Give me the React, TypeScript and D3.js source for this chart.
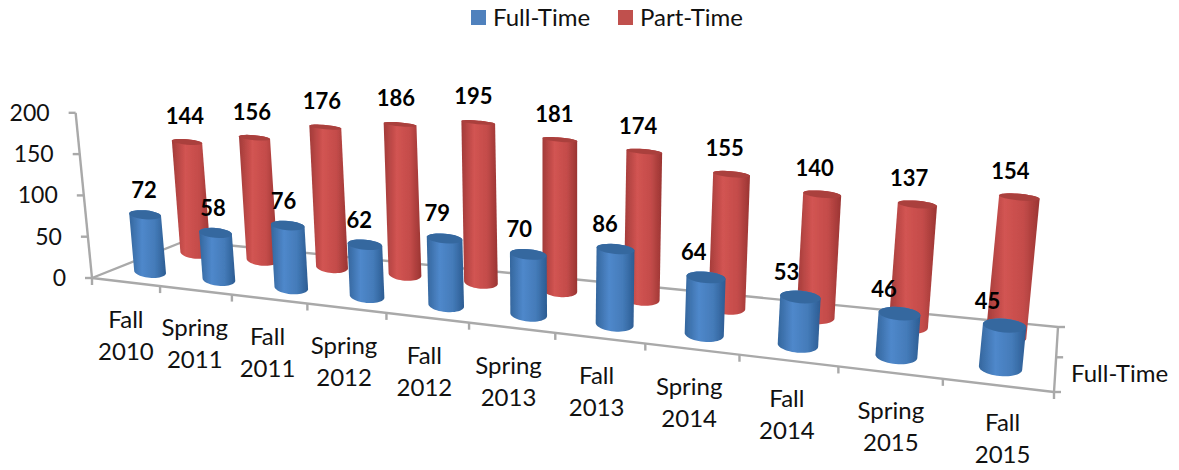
import React from 'react';
import * as d3 from 'd3';

const categories = ['Fall 2010', 'Spring 2011', 'Fall 2011', 'Spring 2012', 'Fall 2012', 'Spring 2013', 'Fall 2013', 'Spring 2014', 'Fall 2014', 'Spring 2015', 'Fall 2015'];
const fullTime = [72, 58, 76, 62, 79, 70, 86, 64, 53, 46, 45];
const partTime = [144, 156, 176, 186, 195, 181, 174, 155, 140, 137, 154];
const seriesNames = ['Full-Time', 'Part-Time'];
const yTicks = [0, 50, 100, 150, 200];

const font = 'Lato, Carlito, sans-serif';
const axisColor = '#a9a9a9';

// floor corners on screen: front-left, front-right, back-right, back-left
const [x0, y0] = [92, 278];
const [x1, y1] = [1054, 392];
const [x2, y2] = [1058, 327];
const [x3, y3] = [185, 241];

// square to quad homography for the floor plane
const sx = x0 - x1 + x2 - x3;
const sy = y0 - y1 + y2 - y3;
const det = (x1 - x2) * (y3 - y2) - (x3 - x2) * (y1 - y2);
const g = (sx * (y3 - y2) - (x3 - x2) * sy) / det;
const h = ((x1 - x2) * sy - sx * (y1 - y2)) / det;

const vanish: [number, number] = [560, 5000];

const uScale = d3.scaleBand<string>().domain(categories).range([0, 1]);
const dScale = d3.scaleBand<string>().domain(seriesNames).range([0, 1]);
const axisScale = d3.scaleLinear().domain([0, 200]).range([0, 166]);
const barScale = d3.scaleLinear().domain([0, 200]).range([0, 160]);

const depthW = (u: number, d: number) => g * u + h * d + 1;

function floorPoint(rawU: number, d: number): [number, number] {
  // the picture is less foreshortened along x than the corners alone suggest
  const u = rawU + 0.023 * Math.sin(Math.PI * rawU);
  const w = depthW(u, d);
  return [
    ((x1 - x0 + g * x1) * u + (x3 - x0 + h * x3) * d + x0) / w,
    ((y1 - y0 + g * y1) * u + (y3 - y0 + h * y3) * d + y0) / w,
  ];
}

function lift(p: [number, number], up: number): [number, number] {
  const len = Math.hypot(p[0] - vanish[0], p[1] - vanish[1]);
  return [p[0] + (up * (p[0] - vanish[0])) / len, p[1] + (up * (p[1] - vanish[1])) / len];
}

const project = (u: number, d: number, v: number) => lift(floorPoint(u, d), axisScale(v) / depthW(u, d));
const barTop = (u: number, d: number, v: number) => lift(floorPoint(u, d), barScale(v) / Math.pow(depthW(u, d), 0.56));

const line = d3.line();
const radius = 16.2;

function ellipsePts(c: [number, number], rx: number, ry: number, from: number, to: number) {
  const tilt = 0.09;
  return d3.range(0, 25).map((k) => {
    const t = from + ((to - from) * k) / 24;
    const ex = rx * Math.cos(t);
    const ey = ry * Math.sin(t);
    return [c[0] + ex * Math.cos(tilt) - ey * Math.sin(tilt), c[1] + ex * Math.sin(tilt) + ey * Math.cos(tilt)] as [number, number];
  });
}

function Cylinder({ u, d, v, name }: { u: number; d: number; v: number; name: string }) {
  const rx = radius / depthW(u, d);
  const base = floorPoint(u, d);
  const top = barTop(u, d, v);
  const ratio = (val: number) => 0.38 - 0.0014 * val;
  // lower half of the base, then the far half of the top
  const side = [...ellipsePts(base, rx, rx * ratio(0), 0, Math.PI), ...ellipsePts(top, rx, rx * ratio(v), Math.PI, 2 * Math.PI)];
  const id = name === 'Full-Time' ? 'blue' : 'red';
  return (
    <g>
      <path d={line(side) + 'Z'} fill={`url(#${id})`} />
      <path d={line(ellipsePts(top, rx, rx * ratio(v), 0, 2 * Math.PI)) + 'Z'} fill={id === 'blue' ? '#36689f' : '#aa403e'} />
    </g>
  );
}

export default function App() {
  const band = uScale.bandwidth();
  const uOf = (c: string) => (uScale(c) as number) + band / 2;
  const dFull = (dScale('Full-Time') as number) + dScale.bandwidth() / 2;
  const dPart = (dScale('Part-Time') as number) + dScale.bandwidth() / 2;
  const axisPath = (a: [number, number], b: [number, number]) => line([a, b]) as string;
  const tickProps = { fontFamily: font, fontSize: 23, fill: '#111' };
  const wordProps = { fontFamily: font, fontSize: 24, fill: '#111' };

  return (
    <svg width={1179} height={470} style={{ position: 'absolute', left: 0, top: 0, background: '#fff' }}>
      <defs>
        <linearGradient id="blue">
          <stop offset="0" stopColor="#34669d" />
          <stop offset="0.35" stopColor="#4f88cb" />
          <stop offset="0.7" stopColor="#447bb9" />
          <stop offset="1" stopColor="#2c5c92" />
        </linearGradient>
        <linearGradient id="red">
          <stop offset="0" stopColor="#a23b39" />
          <stop offset="0.35" stopColor="#d25452" />
          <stop offset="0.7" stopColor="#c44c4a" />
          <stop offset="1" stopColor="#9a3432" />
        </linearGradient>
        <filter id="soft" x="-10%" y="-10%" width="120%" height="120%">
          <feGaussianBlur stdDeviation="0.5" />
        </filter>
      </defs>

      <g stroke={axisColor} strokeWidth={2.4} fill="none">
        <path d={axisPath(project(0, 0, 0), project(0, 0, 200))} />
        <path d={axisPath(project(0, 0, 0), project(1, 0, 0))} />
        <path d={axisPath(project(0, 0, 0), project(0, 1, 0))} />
        <path d={axisPath(project(0, 1, 0), project(1, 1, 0))} />
        <path d={axisPath(project(1, 0, 0), project(1, 1, 0))} />
        {yTicks.map((t) => {
          const p = project(0, 0, t);
          return <path key={t} d={axisPath(p, [p[0] - 7, p[1]])} />;
        })}
        {d3.range(0, 12).map((k) => {
          const p = project(k / 11, 0, 0);
          return <path key={k} d={axisPath(p, [p[0], p[1] + 7])} />;
        })}
        {[0, 0.5, 1].map((d) => {
          const p = project(1, d, 0);
          return <path key={d} d={axisPath(p, [p[0] + 7, p[1]])} />;
        })}
      </g>

      <g filter="url(#soft)">
        {categories.map((c, i) => (
          <Cylinder key={c} u={uOf(c)} d={dPart} v={partTime[i]} name="Part-Time" />
        ))}
        {categories.map((c, i) => (
          <Cylinder key={c} u={uOf(c)} d={dFull} v={fullTime[i]} name="Full-Time" />
        ))}
      </g>

      {yTicks.map((t) => {
        const p = project(0, 0, t);
        return (
          <text key={t} {...tickProps} x={p[0] - 26} y={p[1] + 2} textAnchor="end" dominantBaseline="middle">
            {t}
          </text>
        );
      })}

      {categories.map((c) => {
        const u = uOf(c);
        const p = project(u, 0, 0);
        const [a, b] = c.split(' ');
        const shift = -4 + 12 * Math.pow(u, 6) + 5 * Math.pow(1 - u, 3);
        return (
          <g key={c} {...wordProps} textAnchor="middle">
            <text x={p[0] + shift} y={p[1] + 46}>{a}</text>
            <text x={p[0] + shift} y={p[1] + 78}>{b}</text>
          </g>
        );
      })}

      {categories.map((c, i) => {
        const pf = barTop(uOf(c), dFull, fullTime[i]);
        const pp = barTop(uOf(c), dPart, partTime[i]);
        return (
          <g key={c} fontFamily={font} fontSize={22} fontWeight={700} fill="#000" textAnchor="middle">
            <text x={pf[0] - 1 - i * 1.6} y={pf[1] - 17}>{fullTime[i]}</text>
            <text x={pp[0] - 2 - i * 0.7} y={pp[1] - 18}>{partTime[i]}</text>
          </g>
        );
      })}

      <text {...wordProps} x={1071} y={382}>Full-Time</text>

      <rect x={471} y={10} width={15} height={15} fill="#4f81bd" />
      <text {...wordProps} x={493} y={26}>Full-Time</text>
      <rect x={618} y={10} width={15} height={15} fill="#c0504d" />
      <text {...wordProps} x={640} y={26}>Part-Time</text>
    </svg>
  );
}
